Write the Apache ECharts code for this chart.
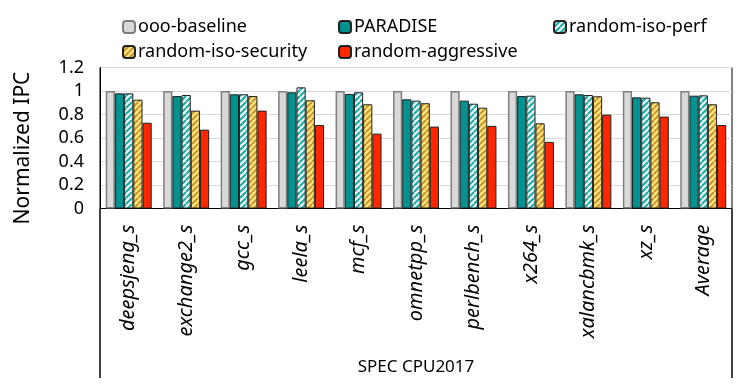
<!DOCTYPE html>
<head>
    <meta charset="UTF-8">
    <title>Normalized IPC</title>
</head>
<body style="margin:0">
<div id="main" style="width:747px;height:384px"></div>
<script src="https://cdn.jsdelivr.net/npm/echarts@6/dist/echarts.min.js"></script>
<script type="text/javascript">
    var categories = ['deepsjeng_s', 'exchange2_s', 'gcc_s', 'leela_s', 'mcf_s', 'omnetpp_s',
        'perlbench_s', 'x264_s', 'xalancbmk_s', 'xz_s', 'Average'];
    var oooBaseline = [1, 1, 1, 1, 1, 1, 1, 1, 1, 1, 1];
    var paradise = [0.98, 0.957, 0.972, 0.989, 0.975, 0.929, 0.918, 0.957, 0.972, 0.946, 0.96];
    var randomIsoPerf = [0.98, 0.966, 0.972, 1.031, 0.989, 0.918, 0.892, 0.96, 0.966, 0.943, 0.963];
    var randomIsoSecurity = [0.926, 0.833, 0.957, 0.921, 0.887, 0.896, 0.858, 0.725, 0.955, 0.904, 0.887];
    var randomAggressive = [0.73, 0.671, 0.833, 0.711, 0.637, 0.697, 0.703, 0.567, 0.799, 0.782, 0.711];
    var yTicks = ['0', '0.2', '0.4', '0.6', '0.8', '1', '1.2'];

    var FONT = '"Noto Sans", sans-serif';

    // diagonal hatch fill
    function hatch(bg, fg) {
        var c = document.createElement('canvas');
        c.width = 6; c.height = 6;
        var ctx = c.getContext('2d');
        ctx.fillStyle = bg;
        ctx.fillRect(0, 0, 6, 6);
        ctx.strokeStyle = fg;
        ctx.lineWidth = 2;
        for (var o = -6; o <= 6; o += 6) {
            ctx.beginPath();
            ctx.moveTo(o, 6);
            ctx.lineTo(o + 6, 0);
            ctx.stroke();
        }
        return {image: c, repeat: 'repeat'};
    }

    function bar(name, data, color, border, bw) {
        return {
            name: name,
            type: 'bar',
            data: data,
            barGap: '0%',
            barCategoryGap: '20%',
            itemStyle: {color: color, borderColor: border, borderWidth: bw}
        };
    }

    var legendBase = {
        orient: 'vertical',
        top: 13,
        itemWidth: 12,
        itemHeight: 12,
        itemGap: 7,
        textStyle: {fontFamily: FONT, fontSize: 18, color: '#000', padding: [0, 0, 0, -2]}
    };

    var option = {
        animation: false,
        legend: [
            Object.assign({left: 117, data: ['ooo-baseline', 'random-iso-security']}, legendBase),
            Object.assign({left: 333, data: ['PARADISE', 'random-aggressive']}, legendBase),
            Object.assign({left: 548, data: ['random-iso-perf']}, legendBase)
        ],
        grid: {
            left: 100, right: 15, top: 67.5, bottom: 175.5,
            show: true, borderColor: '#000', borderWidth: 1
        },
        xAxis: {
            type: 'category',
            data: categories,
            name: 'SPEC CPU2017',
            nameLocation: 'middle',
            nameGap: 150,
            nameTextStyle: {fontFamily: FONT, fontSize: 17, color: '#000'},
            axisLine: {lineStyle: {color: '#000', width: 1}},
            axisTick: {show: false},
            axisLabel: {
                rotate: 90, margin: 16, interval: 0,
                fontFamily: FONT, fontSize: 20, fontStyle: 'italic', color: '#000'
            }
        },
        yAxis: {
            type: 'value',
            min: 0, max: 1.2, interval: 0.2,
            name: 'Normalized IPC',
            nameLocation: 'middle',
            nameGap: 66,
            nameTextStyle: {fontFamily: FONT, fontSize: 21, color: '#000', padding: [0, 0, 0, -20]},
            axisLine: {show: true, lineStyle: {color: '#000'}},
            axisTick: {show: false},
            axisLabel: {
                margin: 16, fontFamily: FONT, fontSize: 18, color: '#000',
                formatter: function (v) { return yTicks[Math.round(v / 0.2)]; }
            },
            splitLine: {lineStyle: {color: '#d9d9d9', width: 1}}
        },
        graphic: [
            {type: 'line', shape: {x1: 100, y1: 209, x2: 100, y2: 378}, style: {stroke: '#000', lineWidth: 1.5}},
            {type: 'line', shape: {x1: 732, y1: 209, x2: 732, y2: 378}, style: {stroke: '#000', lineWidth: 1.5}}
        ],
        series: [
            bar('ooo-baseline', oooBaseline, '#d9d9d9', '#7f7f7f', 1.5),
            bar('PARADISE', paradise, '#009190', '#222', 1),
            bar('random-iso-perf', randomIsoPerf, hatch('#e6f7f7', '#22a9a7'), '#222', 1),
            bar('random-iso-security', randomIsoSecurity, hatch('#ffe680', '#c7962b'), '#222', 1),
            bar('random-aggressive', randomAggressive, '#ff2600', '#222', 1)
        ]
    };

    var myChart = echarts.init(document.getElementById('main'));
    myChart.setOption(option);
</script>
</body>
